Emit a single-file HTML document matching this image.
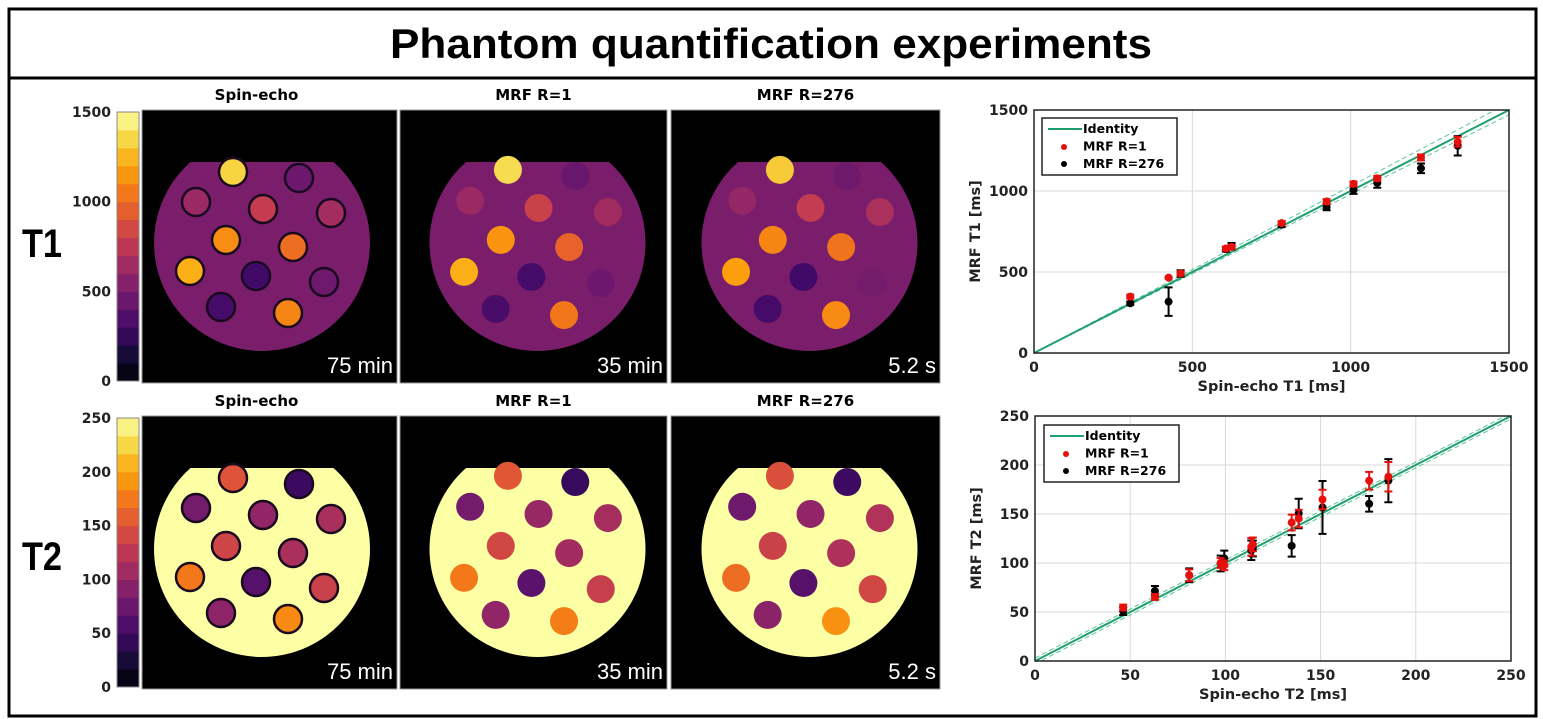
<!DOCTYPE html>
<html><head><meta charset="utf-8">
<style>
html,body{margin:0;padding:0;background:#fff;}
svg{display:block;}
.tk{font-family:"DejaVu Sans",sans-serif;font-weight:bold;font-size:14px;fill:#222;}
.ax{font-family:"DejaVu Sans",sans-serif;font-weight:bold;font-size:14.5px;fill:#222;}
.pt{font-family:"DejaVu Sans",sans-serif;font-weight:bold;font-size:15px;fill:#000;}
.tm{font-family:"Liberation Sans",sans-serif;font-size:22px;fill:#fff;}
.lg{font-family:"DejaVu Sans",sans-serif;font-weight:bold;font-size:12.5px;fill:#000;}
</style></head>
<body>
<svg id="fig" width="1543" height="719" viewBox="0 0 1543 719" xmlns="http://www.w3.org/2000/svg">
  <rect x="9" y="9" width="1527" height="707" fill="#fff" stroke="#000" stroke-width="3"/>
  <line x1="9" y1="78" x2="1536" y2="78" stroke="#000" stroke-width="3"/>
  <text x="771" y="58" text-anchor="middle" font-family="Liberation Sans, sans-serif" font-weight="bold" font-size="42" textLength="762" lengthAdjust="spacingAndGlyphs">Phantom quantification experiments</text>
  <text x="22" y="257" font-family="Liberation Sans, sans-serif" font-weight="bold" font-size="40" textLength="40" lengthAdjust="spacingAndGlyphs">T1</text>
  <text x="22" y="570" font-family="Liberation Sans, sans-serif" font-weight="bold" font-size="40" textLength="40" lengthAdjust="spacingAndGlyphs">T2</text>
  <g id="imgs"></g>
  <g id="plots"></g>
</svg>
<script>
// ---- chart data ----
const t1SE  = [304, 425, 463, 606, 624, 782, 924, 1009, 1084, 1222, 1338];
const t1R1  = [348, 465, 491, 645, 655, 802, 935, 1044, 1078, 1207, 1304];
const t1R1e = [12, 6, 12, 12, 12, 12, 15, 15, 15, 18, 30];
const t1R276  = [307, 317, 491, 641, 659, 792, 901, 1007, 1050, 1140, 1279];
const t1R276e = [10, 88, 20, 15, 20, 15, 20, 25, 30, 30, 60];
const t1Ticks = [0, 500, 1000, 1500];

const t2SE  = [46.3, 63, 81, 97.5, 99.4, 113.6, 114.4, 134.8, 138.5, 151, 175.5, 185.6];
const t2R1  = [54.5, 65.4, 87.5, 100, 97.7, 116.5, 119, 141.3, 145.4, 164.8, 184, 188];
const t2R1e = [3, 3, 6, 5, 5, 9, 7, 8, 9, 10, 9, 15];
const t2R276  = [51, 71.5, 87.5, 99.5, 104.6, 113, 114.8, 117.5, 150.5, 156.7, 160.4, 184];
const t2R276e = [4, 5, 7, 8, 8, 10, 8, 11, 15, 27, 8, 22];
const t2Ticks = [0, 50, 100, 150, 200, 250];

// phantom vial values
const vialT1 = [1340, 460, 630, 780, 660, 1120, 1010, 1230, 300, 470, 320, 1090];
const vialT2 = [151, 46, 81, 99, 114, 138, 114, 175, 63, 135, 97, 185];
const cbT1Ticks = [0, 500, 1000, 1500];
const cbT2Ticks = [0, 50, 100, 150, 200, 250];

const NS = "http://www.w3.org/2000/svg";
function mk(tag, attrs, parent){const e=document.createElementNS(NS,tag);for(const k in attrs)e.setAttribute(k,attrs[k]);parent.appendChild(e);return e;}

const inf=[[0,0,4],[22,11,57],[66,10,104],[106,23,110],[147,38,103],[188,55,84],[221,81,58],[243,120,25],[252,165,10],[246,215,70],[252,255,164]];
function cmap(t){t=Math.max(0,Math.min(1,t))*10;const i=Math.min(9,Math.floor(t)),f=t-i;const a=inf[i],b=inf[i+1];
  return "rgb("+a.map((v,k)=>Math.round(v+(b[k]-v)*f)).join(",")+")";}

const imgs=document.getElementById('imgs');
const offs=[[-29,-71],[37,-65],[-66,-41],[1,-34],[69,-30],[-36,-3],[31,4],[-72,28],[-6,33],[62,39],[-41,64],[26,70]];
const panels=[{x:142,w:255,t:'Spin-echo',tm:'75 min'},{x:400,w:267,t:'MRF R=1',tm:'35 min'},{x:671,w:269,t:'MRF R=276',tm:'5.2 s'}];
const rows=[{y:110,h:273,max:1500,vals:vialT1,bg:510,ticks:cbT1Ticks,n:'t1'},{y:416,h:273,max:250,vals:vialT2,bg:250,ticks:cbT2Ticks,n:'t2'}];
rows.forEach((r,ri)=>{
  const cb=mk('g',{},imgs);
  
  
  const steps=15, sh=(r.h-4)/steps;
  for(let i=0;i<steps;i++){mk('rect',{x:117,y:r.y+2+r.h-4-(i+1)*sh,width:22,height:sh+0.5,fill:cmap((i+0.5)/steps)},cb);}
  mk('rect',{x:117,y:r.y+2,width:22,height:r.h-4,fill:'none',stroke:'#888','stroke-width':1},cb);
  r.ticks.forEach(v=>{const t=mk('text',{x:111,y:r.y+2+(r.h-4)*(1-v/r.max)+5,'text-anchor':'end',class:'tk'},cb);t.textContent=v;});
  panels.forEach((p,pi)=>{
    const g=mk('g',{},imgs);
    
    
    mk('rect',{x:p.x,y:r.y,width:p.w,height:r.h,fill:'#000',stroke:'#999','stroke-width':1},g);
    const cx=p.x+(pi==0?120:p.w/2+4), cy=r.y+133, R=108;
    const cid='clip'+ri+pi;
    const cp=mk('clipPath',{id:cid},g);
    mk('rect',{x:cx-R-2,y:r.y+52,width:2*R+4,height:R+90},cp);
    mk('circle',{cx:cx,cy:cy,r:R,fill:cmap(r.bg/r.max),'clip-path':'url(#'+cid+')'},g);
    offs.forEach((o,k)=>{
      const v=r.vals[k]*(pi==0?1:(1+((k*7+pi*3)%5-2)*0.02));
      mk('circle',{cx:cx+o[0]*(pi==0?1:1.02),cy:cy+o[1]*(pi==0?1:1.03),r:14,fill:cmap(v/r.max),stroke:pi==0?'#1a0a20':'none','stroke-width':2.5},g);
    });
    const tt=mk('text',{x:p.x+p.w/2+(pi==0?-13:0),y:r.y-10,'text-anchor':'middle',class:'pt'},g);tt.textContent=p.t;
    const tm=mk('text',{x:p.x+p.w-4,y:r.y+r.h-10,'text-anchor':'end',class:'tm'},g);tm.textContent=p.tm;
  });
});

// ---- scatter plots ----
const plots=document.getElementById('plots');
function plot(cfg){
  const {x0,x1,y0,y1,max,ticks,se,r1,r1e,r2,r2e,xl,yl,n,leg,up,lo}=cfg;
  const px=v=>x0+v/max*(x1-x0), py=v=>y0-v/max*(y0-y1);
  const g=mk('g',{},plots);
  
  
  mk('rect',{x:x0,y:y1,width:x1-x0,height:y0-y1,fill:'#fff'},g);
  ticks.forEach(v=>{
    mk('line',{x1:px(v),y1:y0,x2:px(v),y2:y1,stroke:'#d8d8d8','stroke-width':1},g);
    mk('line',{x1:x0,y1:py(v),x2:x1,y2:py(v),stroke:'#d8d8d8','stroke-width':1},g);
    const tx=mk('text',{x:px(v),y:y0+19,'text-anchor':'middle',class:'tk'},g);tx.textContent=v;
    
    
    const ty=mk('text',{x:x0-6,y:py(v)+5,'text-anchor':'end',class:'tk'},g);ty.textContent=v;
    
    
  });
  const cl='pc'+n; const cp=mk('clipPath',{id:cl},g);mk('rect',{x:x0,y:y1,width:x1-x0,height:y0-y1},cp);
  [up,lo].forEach(f=>{mk('line',{x1:px(0),y1:py(f[1]),x2:px(max),y2:py(max*f[0]+f[1]),stroke:'#5cc39a','stroke-width':1,'stroke-dasharray':'5,3','clip-path':'url(#'+cl+')'},g);});
  const idl=mk('line',{x1:px(0),y1:py(0),x2:px(max),y2:py(max),stroke:'#1fa06e','stroke-width':2},g);
  
  
  [[r2,r2e,'#000','r276'],[r1,r1e,'#e8100c','r1']].forEach(s=>{
    se.forEach((xv,i)=>{
      const X=px(xv),Ya=py(s[0][i]-s[1][i]),Yb=py(s[0][i]+s[1][i]);
      mk('path',{d:`M${X},${Ya}V${Yb}M${X-4},${Ya}H${X+4}M${X-4},${Yb}H${X+4}`,stroke:s[2],'stroke-width':2,fill:'none'},g);
      const c=mk('circle',{cx:X,cy:py(s[0][i]),r:4,fill:s[2]},g);
      
      
    });
  });
  mk('rect',{x:x0,y:y1,width:x1-x0,height:y0-y1,fill:'none',stroke:'#222','stroke-width':1.5},g);
  const xt=mk('text',{x:(x0+x1)/2,y:y0+38,'text-anchor':'middle',class:'ax'},g);xt.textContent=xl;
  
  
  const yx=x0-54, yc=(y0+y1)/2;
  const yt=mk('text',{x:yx,y:yc,'text-anchor':'middle',class:'ax',transform:`rotate(-90 ${yx} ${yc})`},g);yt.textContent=yl;
  
  
  const L=mk('g',{},g);
  
  
  mk('rect',{x:leg[0],y:leg[1],width:135,height:57,fill:'#fff',stroke:'#222','stroke-width':1.5},L);
  mk('line',{x1:leg[0]+6,y1:leg[1]+11,x2:leg[0]+40,y2:leg[1]+11,stroke:'#1fa06e','stroke-width':2},L);
  mk('circle',{cx:leg[0]+22,cy:leg[1]+29,r:3,fill:'#e8100c'},L);
  mk('circle',{cx:leg[0]+22,cy:leg[1]+46,r:3,fill:'#000'},L);
  ['Identity','MRF R=1','MRF R=276'].forEach((t,i)=>{const e=mk('text',{x:leg[0]+41,y:leg[1]+15+i*17.5,class:'lg'},L);e.textContent=t;});
}
plot({x0:1034,x1:1509,y0:353,y1:110,max:1500,ticks:t1Ticks,se:t1SE,r1:t1R1,r1e:t1R1e,r2:t1R276,r2e:t1R276e,xl:'Spin-echo T1 [ms]',yl:'MRF T1 [ms]',n:'t1',leg:[1042,118],up:[1.03,0],lo:[0.98,0]});
plot({x0:1035,x1:1511,y0:661,y1:416,max:250,ticks:t2Ticks,se:t2SE,r1:t2R1,r1e:t2R1e,r2:t2R276,r2e:t2R276e,xl:'Spin-echo T2 [ms]',yl:'MRF T2 [ms]',n:'t2',leg:[1044,425],up:[1.0,3],lo:[1.0,-3]});
</script>
</body></html>
